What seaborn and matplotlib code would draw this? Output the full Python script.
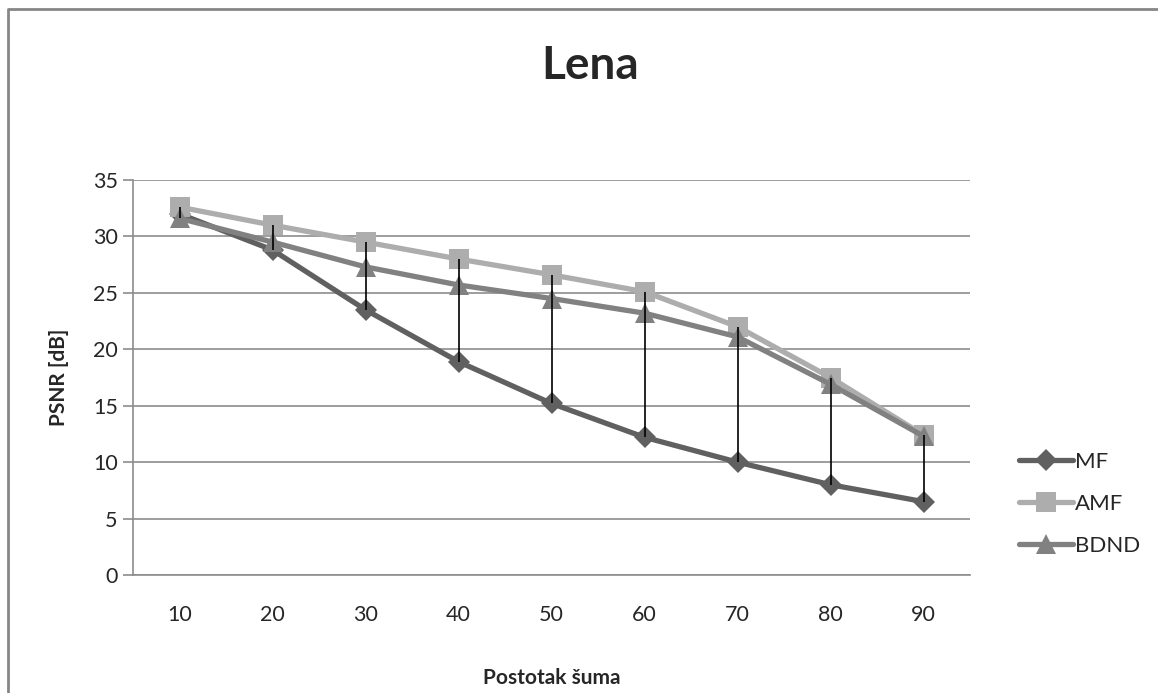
import matplotlib
matplotlib.use("Agg")
import matplotlib.pyplot as plt
import seaborn as sns
import pandas as pd
from matplotlib.lines import Line2D

noise = ["10", "20", "30", "40", "50", "60", "70", "80", "90"]
mf = [32.0, 28.8, 23.5, 18.9, 15.2, 12.2, 10.0, 8.0, 6.5]
amf = [32.6, 31.0, 29.5, 28.0, 26.6, 25.1, 22.0, 17.5, 12.4]
bdnd = [31.6, 29.5, 27.3, 25.7, 24.5, 23.2, 21.1, 16.9, 12.3]

series = ["MF", "AMF", "BDND"]
colors = {"MF": "#606060", "AMF": "#adadad", "BDND": "#818181"}
markers = {"MF": "D", "AMF": "s", "BDND": "^"}
msize = {"MF": 11, "AMF": 14, "BDND": 14}

df = pd.DataFrame({"Postotak šuma": noise * 3,
                   "PSNR [dB]": mf + amf + bdnd,
                   "metoda": ["MF"] * 9 + ["AMF"] * 9 + ["BDND"] * 9})

sns.set_style("white")
plt.rcParams['font.family'] = ['Lato', 'DejaVu Sans']

fig = plt.figure(figsize=(11.58, 6.93), dpi=100)
ax = fig.add_axes([133 / 1158, 1 - 575 / 693, (970 - 133) / 1158, (575 - 180) / 693])

for s in series:
    sub = df[df["metoda"] == s]
    sns.lineplot(data=sub, x="Postotak šuma", y="PSNR [dB]", ax=ax, color=colors[s],
                 marker=markers[s], markersize=msize[s], markeredgewidth=0,
                 linewidth=3.8, label=s, sort=False, zorder=3)

# high-low lines
wide = df.pivot(index="Postotak šuma", columns="metoda", values="PSNR [dB]").loc[noise]
ax.vlines(range(len(noise)), wide.min(axis=1), wide.max(axis=1), color="black",
          linewidth=1.2, zorder=5)

ax.set_xlim(-0.5, len(noise) - 0.5)
ax.set_ylim(0, 35)
ax.set_yticks(range(0, 36, 5))
ax.yaxis.grid(True, color="#8c8c8c", linewidth=1.2)
ax.set_axisbelow(True)
for side in ["top", "right"]:
    ax.spines[side].set_visible(False)
ax.spines["left"].set_color("#8c8c8c")
ax.spines["bottom"].set_color("#8c8c8c")
ax.spines["left"].set_linewidth(1.2)
ax.spines["bottom"].set_linewidth(1.2)
ax.tick_params(axis="y", left=True, length=7, color="#8c8c8c", width=1.2,
               labelsize=15.5, pad=4)
ax.tick_params(axis="x", bottom=False, labelsize=15.5, pad=18)
ax.set_xlabel("Postotak šuma", fontsize=15, fontweight="bold", labelpad=31)
ax.set_ylabel("PSNR [dB]", fontsize=15, fontweight="bold", labelpad=17)

fig.text(590 / 1158, 1 - 66 / 693, "Lena", fontsize=33, fontweight="bold",
         ha="center", va="center")

ax.legend(loc="center left", bbox_to_anchor=(1.035, 0.18), frameon=False,
          fontsize=16, handlelength=2.4, handletextpad=0.1, labelspacing=1.0)

fig.add_artist(Line2D([8 / 1158, 8 / 1158, 1.0], [0.0, 1 - 9 / 693, 1 - 9 / 693],
                      transform=fig.transFigure, color="#868686", linewidth=2))

fig.savefig("out.png", dpi=100)
